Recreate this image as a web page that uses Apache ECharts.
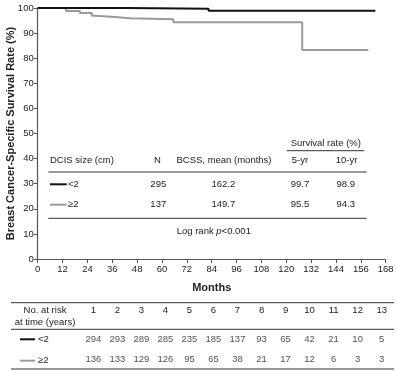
<!DOCTYPE html>
<html>
<head>
<meta charset="utf-8">
<script src="https://cdn.jsdelivr.net/npm/echarts@6/dist/echarts.min.js"></script>
<style>
html, body { margin: 0; padding: 0; background: #fff; }
#chart { width: 397px; height: 372px; }
</style>
</head>
<body>
<div id="chart"></div>
<script>
// survival curves, [month, survival %]
var smallDcis = [[0, 100], [43, 99.7], [82.5, 98.9], [163, 98.9]];
var largeDcis = [[0, 100], [13.7, 98.8], [20.4, 98.0], [26.1, 96.9], [27.7, 96.5], [35.7, 95.9],
    [44.5, 95.5], [65.5, 94.3], [127.7, 83.3], [159.6, 83.3]];

// summary table in the plot
var groupNames = ['<2', '≥2'];
var groupN = [295, 137];
var bcssMean = ['162.2', '149.7'];
var rate5yr = ['99.7', '95.5'];
var rate10yr = ['98.9', '94.3'];

// number at risk
var riskYears = ['1', '2', '3', '4', '5', '6', '7', '8', '9', '10', '11', '12', '13'];
var riskSmall = [294, 293, 289, 285, 235, 185, 137, 93, 65, 42, 21, 10, 5];
var riskLarge = [136, 133, 129, 126, 95, 65, 38, 21, 17, 12, 6, 3, 3];

var xTicks = [0, 168, 12];
var yTicks = [0, 100, 10];

var font = 'Liberation Sans, Arial, sans-serif';
var txt = '#222';
var axisCol = '#555';
var lineCols = ['#111', '#9a9a9a'];

var chart = echarts.init(document.getElementById('chart'));

function text(x, y, s, align, extra) {
    var st = {
        text: s, fill: txt, font: '9.5px ' + font,
        align: align || 'center', verticalAlign: 'middle'
    };
    for (var k in extra) st[k] = extra[k];
    return { type: 'text', x: x, y: y, style: st, z: 10 };
}
function hline(x1, x2, y, color, w) {
    return {
        type: 'line', shape: { x1: x1, y1: y, x2: x2, y2: y },
        style: { stroke: color || '#333', lineWidth: w || 1 }, z: 10
    };
}

var graphics = [];
// in-plot table
graphics.push(text(325.8, 143.3, 'Survival rate (%)'));
graphics.push(hline(286.7, 364, 150.7));
graphics.push(text(50, 160.7, 'DCIS size (cm)', 'left'));
graphics.push(text(157.5, 160.7, 'N'));
graphics.push(text(224, 160.7, 'BCSS, mean (months)'));
graphics.push(text(300, 160.7, '5-yr'));
graphics.push(text(346.5, 160.7, '10-yr'));
graphics.push(hline(48.3, 366.7, 172));
var rowY = [184.3, 204.7];
for (var i = 0; i < groupNames.length; i++) {
    graphics.push(hline(50, 66.7, rowY[i], lineCols[i], 2));
    graphics.push(text(68, rowY[i], groupNames[i], 'left'));
    graphics.push(text(158.3, rowY[i], String(groupN[i])));
    graphics.push(text(223.3, rowY[i], bcssMean[i]));
    graphics.push(text(300, rowY[i], rate5yr[i]));
    graphics.push(text(345.7, rowY[i], rate10yr[i]));
}
graphics.push(hline(48.3, 366.7, 218.3));
graphics.push({
    type: 'text', x: 176.7, y: 231.7, z: 10,
    style: {
        text: '{n|Log rank }{i|p}{n|<0.001}', verticalAlign: 'middle', align: 'left',
        rich: {
            n: { fontSize: 9.5, fontFamily: font, fill: txt },
            i: { fontSize: 9.5, fontFamily: font, fill: txt, fontStyle: 'italic' }
        }
    }
});
// at-risk table
graphics.push(hline(11, 394, 302.7));
graphics.push(text(45, 310, 'No. at risk'));
graphics.push(text(45, 322.7, 'at time (years)'));
graphics.push(hline(11, 394, 329.3));
var riskRowY = [339.3, 360.7];
for (var j = 0; j < groupNames.length; j++) {
    graphics.push(hline(20, 35, riskRowY[j], lineCols[j], 2));
    graphics.push(text(38, riskRowY[j], groupNames[j], 'left'));
}
graphics.push(hline(11, 394, 369));

var riskData = [];
for (var k = 0; k < riskYears.length; k++) {
    riskData.push([riskYears[k], groupNames[0], riskSmall[k]]);
    riskData.push([riskYears[k], groupNames[1], riskLarge[k]]);
}

var option = {
    animation: false,
    textStyle: { fontFamily: font },
    grid: [
        { left: 37.7, right: 11.3, top: 8, bottom: 113, outerBoundsMode: 'none', containLabel: false },
        { left: 81.3, width: 312.4, top: 329.3, height: 39.7, outerBoundsMode: 'none', containLabel: false }
    ],
    xAxis: [{
        gridIndex: 0,
        type: 'value',
        min: xTicks[0], max: xTicks[1], interval: xTicks[2],
        name: 'Months', nameLocation: 'middle', nameGap: 23, nameMoveOverlap: false,
        nameTextStyle: { fontSize: 11, fontWeight: 'bold', color: txt, fontFamily: font },
        axisLine: { lineStyle: { color: axisCol, width: 1.2 } },
        axisTick: { length: 4, lineStyle: { color: axisCol } },
        axisLabel: { fontSize: 9.5, color: txt, margin: 5, fontFamily: font },
        splitLine: { show: false }
    }, {
        gridIndex: 1,
        type: 'category',
        data: riskYears,
        position: 'top',
        axisLine: { show: false },
        axisTick: { show: false },
        axisLabel: { fontSize: 9.5, color: txt, margin: 14, fontFamily: font }
    }],
    yAxis: [{
        gridIndex: 0,
        type: 'value',
        min: yTicks[0], max: yTicks[1], interval: yTicks[2],
        name: 'Breast Cancer-Specific Survival Rate (%)', nameLocation: 'middle', nameGap: 21,
        nameMoveOverlap: false,
        nameTextStyle: { fontSize: 11, fontWeight: 'bold', color: txt, fontFamily: font },
        axisLine: { show: true, lineStyle: { color: axisCol, width: 1.2 } },
        axisTick: { show: true, length: 4, lineStyle: { color: axisCol } },
        axisLabel: { fontSize: 9.5, color: txt, margin: 4, fontFamily: font },
        splitLine: { show: false }
    }, {
        gridIndex: 1,
        type: 'category',
        data: [groupNames[1], groupNames[0]],
        show: false
    }],
    series: [{
        type: 'line', xAxisIndex: 0, yAxisIndex: 0,
        step: 'end', showSymbol: false, data: largeDcis,
        lineStyle: { color: lineCols[1], width: 2 }, z: 3
    }, {
        type: 'line', xAxisIndex: 0, yAxisIndex: 0,
        step: 'end', showSymbol: false, data: smallDcis,
        lineStyle: { color: lineCols[0], width: 2 }, z: 4
    }, {
        type: 'scatter', xAxisIndex: 1, yAxisIndex: 1,
        symbolSize: 1, itemStyle: { color: 'rgba(0,0,0,0)' },
        data: riskData,
        label: {
            show: true, position: 'inside', fontSize: 9.5, color: txt, fontFamily: font,
            formatter: function (p) { return p.value[2]; }
        }
    }],
    graphic: graphics
};
chart.setOption(option);
</script>
</body>
</html>
